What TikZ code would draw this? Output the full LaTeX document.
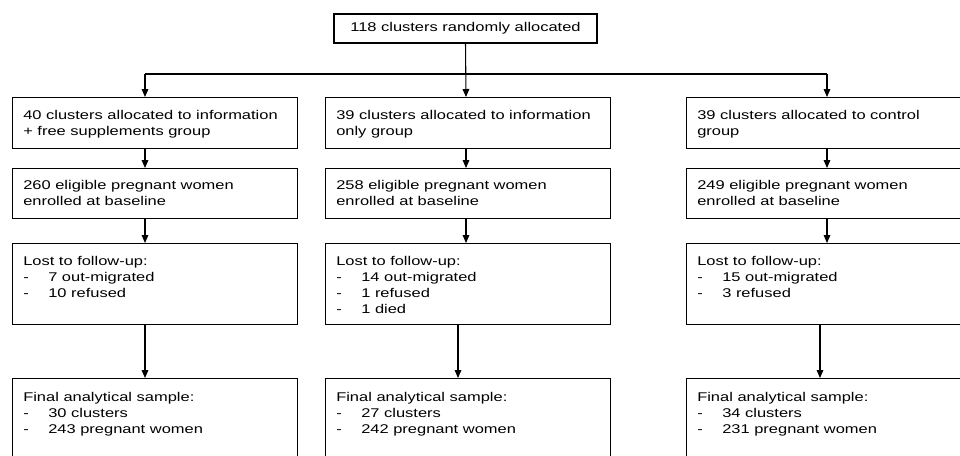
\documentclass[tikz,border=0pt]{standalone}
\usepackage{fontspec}
\setmainfont{Liberation Sans}[FakeStretch=1.3]
\usetikzlibrary{arrows.meta}

\tikzset{
  stage/.style={draw, line width=0.8pt, anchor=north west, minimum width=213.75pt, inner sep=0pt},
  note/.style={anchor=north west, align=left, inner sep=0pt, font=\fontsize{9.5}{12}\selectfont},
  arr/.style={line width=0.8pt, -{Triangle[length=6pt,width=5pt]}},
}
\newcommand{\bullitem}[1]{\makebox[18.75pt][l]{-}#1}

\begin{document}
\begin{tikzpicture}[x=0.75pt,y=-0.75pt]
  \clip (0,0) rectangle (960,455);
  % top box
  \node[draw, line width=0.8pt, minimum width=197.25pt, minimum height=21.75pt, inner sep=0pt,
        font=\fontsize{9.5}{12}\selectfont] (rand) at (465.5,28.5) {118 clusters randomly allocated};
  % column positions of the arrows
  \coordinate (ca) at (145,0);
  \coordinate (cb) at (466,0);
  \coordinate (cc) at (827,0);
  \coordinate (cbb) at (458,0);
  \coordinate (ccb) at (820,0);
  % row 1
  \node[stage, minimum height=38.25pt] (a1) at (12,97) {};
  \node[stage, minimum height=38.25pt] (b1) at (325,97) {};
  \node[stage, minimum height=38.25pt] (c1) at (686,97) {};
  \node[note] at ([xshift=8.25pt,yshift=-9.75pt]a1.north west) {40 clusters allocated to information\\+ free supplements group};
  \node[note] at ([xshift=8.25pt,yshift=-9.75pt]b1.north west) {39 clusters allocated to information\\only group};
  \node[note] at ([xshift=8.25pt,yshift=-9.75pt]c1.north west) {39 clusters allocated to control\\group};
  % row 2
  \node[stage, minimum height=37.5pt] (a2) at (12,168) {};
  \node[stage, minimum height=37.5pt] (b2) at (325,168) {};
  \node[stage, minimum height=37.5pt] (c2) at (686,168) {};
  \node[note] at ([xshift=8.25pt,yshift=-9.4pt]a2.north west) {260 eligible pregnant women\\enrolled at baseline};
  \node[note] at ([xshift=8.25pt,yshift=-9.4pt]b2.north west) {258 eligible pregnant women\\enrolled at baseline};
  \node[note] at ([xshift=8.25pt,yshift=-9.4pt]c2.north west) {249 eligible pregnant women\\enrolled at baseline};
  % row 3
  \node[stage, minimum height=60.75pt] (a3) at (12,243) {};
  \node[stage, minimum height=60.75pt] (b3) at (325,243) {};
  \node[stage, minimum height=60.75pt] (c3) at (686,243) {};
  \node[note] at ([xshift=8.25pt,yshift=-10pt]a3.north west) {Lost to follow-up:\\\bullitem{7 out-migrated}\\\bullitem{10 refused}};
  \node[note] at ([xshift=8.25pt,yshift=-10pt]b3.north west) {Lost to follow-up:\\\bullitem{14 out-migrated}\\\bullitem{1 refused}\\\bullitem{1 died}};
  \node[note] at ([xshift=8.25pt,yshift=-10pt]c3.north west) {Lost to follow-up:\\\bullitem{15 out-migrated}\\\bullitem{3 refused}};
  % row 4
  \node[stage, minimum height=75pt] (a4) at (12,378) {};
  \node[stage, minimum height=75pt] (b4) at (325,378) {};
  \node[stage, minimum height=75pt] (c4) at (686,378) {};
  \node[note] at ([xshift=8.25pt,yshift=-10.8pt]a4.north west) {Final analytical sample:\\\bullitem{30 clusters}\\\bullitem{243 pregnant women}};
  \node[note] at ([xshift=8.25pt,yshift=-10.8pt]b4.north west) {Final analytical sample:\\\bullitem{27 clusters}\\\bullitem{242 pregnant women}};
  \node[note] at ([xshift=8.25pt,yshift=-10.8pt]c4.north west) {Final analytical sample:\\\bullitem{34 clusters}\\\bullitem{231 pregnant women}};
  % allocation
  \coordinate (split) at (466,74);
  \draw[arr] (rand.south) -- (b1.north -| cb);
  \draw[line width=0.8pt] (split -| ca) -- (split -| cc);
  \draw[arr] (split -| ca) -- (a1.north -| ca);
  \draw[arr] (split -| cc) -- (c1.north -| cc);
  % down the columns
  \draw[arr] (a1.south -| ca) -- (a2.north -| ca);
  \draw[arr] (a2.south -| ca) -- (a3.north -| ca);
  \draw[arr] (a3.south -| ca) -- (a4.north -| ca);
  \draw[arr] (b1.south -| cb) -- (b2.north -| cb);
  \draw[arr] (b2.south -| cb) -- (b3.north -| cb);
  \draw[arr] (b3.south -| cbb) -- (b4.north -| cbb);
  \draw[arr] (c1.south -| cc) -- (c2.north -| cc);
  \draw[arr] (c2.south -| cc) -- (c3.north -| cc);
  \draw[arr] (c3.south -| ccb) -- (c4.north -| ccb);
\end{tikzpicture}
\end{document}
